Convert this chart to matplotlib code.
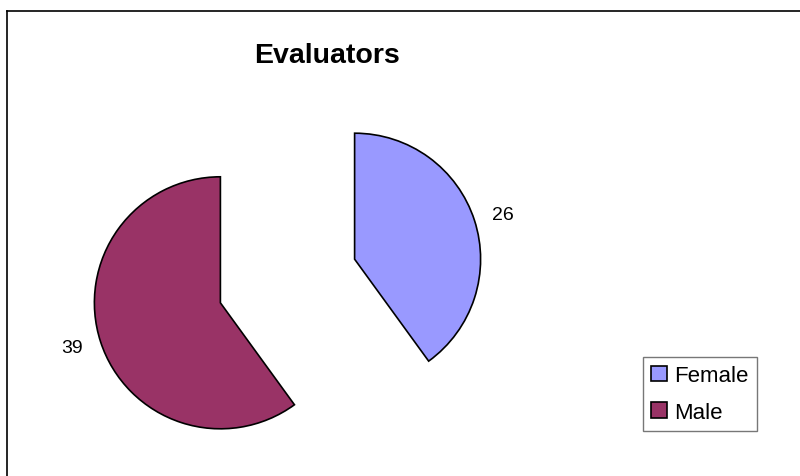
import matplotlib
matplotlib.use("Agg")
import matplotlib.pyplot as plt
from matplotlib.lines import Line2D

categories = ["Female", "Male"]
values = [26, 39]
colors = ["#9999FF", "#993366"]
title = "Evaluators"

plt.rcParams['font.family'] = ['Liberation Sans', 'DejaVu Sans']

W, H = 800, 477
fig = plt.figure(figsize=(W / 100, H / 100), dpi=100)
fig.patch.set_facecolor("white")

# Axes spanning the figure, scaled so 1 data unit = 126 px
R = 126.0
cx, cy = 287.5, 282.0  # pixel position of pie center (from top-left)
ax = fig.add_axes([0, 0, 1, 1])

wedges, texts = ax.pie(
    values,
    labels=[str(v) for v in values],
    colors=colors,
    startangle=90,
    counterclock=False,
    explode=[0.56, 0.56],
    labeldistance=1.15,
    radius=1.0,
    wedgeprops=dict(edgecolor="black", linewidth=1.2),
    textprops=dict(fontsize=14, color="black"),
    frame=True,
)
ax.set_xlim(-cx / R, (W - cx) / R)
ax.set_ylim(-(H - cy) / R, cy / R)
ax.set_aspect("auto")
ax.set_axis_off()

# Title
fig.text(327.5 / W, 1 - 56 / H, title, ha="center", va="center",
         fontsize=20.5, fontweight="bold")

# Chart border (top and left visible)
fig.add_artist(Line2D([7 / W, 1.0], [1 - 12 / H, 1 - 12 / H], color="black",
                      linewidth=1.2, transform=fig.transFigure))
fig.add_artist(Line2D([7 / W, 7 / W], [1 - 12 / H, 0.0], color="black",
                      linewidth=1.2, transform=fig.transFigure))

# Legend
leg = fig.legend(
    wedges, categories,
    loc="center",
    bbox_to_anchor=(700 / W, 1 - 395 / H),
    fontsize=16,
    frameon=True,
    fancybox=False,
    handlelength=0.7,
    handleheight=0.7,
    handletextpad=0.36,
    labelspacing=0.7,
    borderpad=0.36,
    borderaxespad=0,
)
leg.get_frame().set_edgecolor("#555555")
leg.get_frame().set_linewidth(1.0)
for h in leg.legend_handles:
    h.set_edgecolor("black")
    h.set_linewidth(1.2)

fig.savefig("out.png", dpi=100, facecolor="white")
